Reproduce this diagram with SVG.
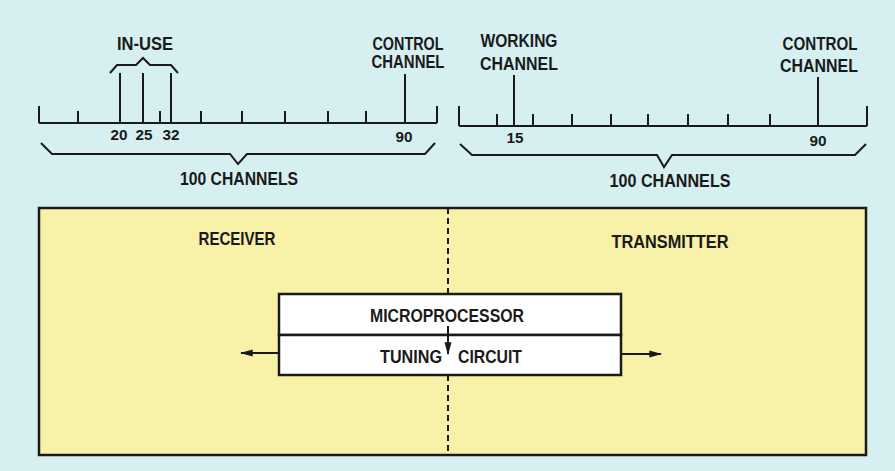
<svg xmlns="http://www.w3.org/2000/svg" width="895" height="471" viewBox="0 0 895 471">
<defs>
<style>
text{font-family:"Liberation Sans",Arial,sans-serif;font-weight:bold;fill:#1a1a1a;text-anchor:middle}
.lbl{font-size:17.5px}
.num{font-size:15.5px}
.ln{stroke:#1a1a1a;stroke-width:2;fill:none}
.box{stroke:#1a1a1a;stroke-width:2.5}
</style>
<marker id="ah" viewBox="0 0 10 10" refX="9" refY="5" markerWidth="6.5" markerHeight="6.5" orient="auto" markerUnits="strokeWidth">
<path d="M0,2.3 L10,5 L0,7.7 Z" fill="#1a1a1a"/>
</marker>
</defs>
<rect width="895" height="471" fill="#d6eff1"/>

<g id="left-scale">
<path class="ln" d="M39,123 H437 M39,106 V123 M437,106 V123 M78,111 V123 M160,111 V123 M201,111 V123 M242,111 V123 M285,111 V123 M328,111 V123 M366,111 V123"/>
<path class="ln" d="M120,73 V123 M143,73 V123 M171,73 V123 M405,74 V123"/>
<path class="ln" d="M110,73 L117,65 H136 L143,58 L150,65 H171 L178,73"/>
<path class="ln" d="M41,143 L52,154 H230 L238,164 L247,154 H425 L435,143"/>
<text class="lbl" x="145" y="50" textLength="56" lengthAdjust="spacingAndGlyphs">IN-USE</text>
<text class="lbl" x="408" y="50" textLength="71" lengthAdjust="spacingAndGlyphs">CONTROL</text>
<text class="lbl" x="408" y="68" textLength="73" lengthAdjust="spacingAndGlyphs">CHANNEL</text>
<text class="num" x="119" y="140" textLength="17" lengthAdjust="spacingAndGlyphs">20</text>
<text class="num" x="144" y="140" textLength="17" lengthAdjust="spacingAndGlyphs">25</text>
<text class="num" x="171" y="140" textLength="17" lengthAdjust="spacingAndGlyphs">32</text>
<text class="num" x="404" y="142" textLength="17" lengthAdjust="spacingAndGlyphs">90</text>
<text class="lbl" x="239" y="185" textLength="118" lengthAdjust="spacingAndGlyphs">100 CHANNELS</text>
</g>

<g id="right-scale">
<path class="ln" d="M459,126 H867 M459,106 V126 M867,106 V126 M497,114 V126 M533,114 V126 M572,114 V126 M611,114 V126 M648,114 V126 M688,114 V126 M728,114 V126 M770,114 V126"/>
<path class="ln" d="M514,75 V126 M818,77 V126"/>
<path class="ln" d="M460,144 L472,155 H657 L664,167 L672,155 H855 L866,144"/>
<text class="lbl" x="519" y="47" textLength="77" lengthAdjust="spacingAndGlyphs">WORKING</text>
<text class="lbl" x="519" y="70" textLength="78" lengthAdjust="spacingAndGlyphs">CHANNEL</text>
<text class="lbl" x="820" y="50" textLength="75" lengthAdjust="spacingAndGlyphs">CONTROL</text>
<text class="lbl" x="819" y="72" textLength="78" lengthAdjust="spacingAndGlyphs">CHANNEL</text>
<text class="num" x="515" y="143" textLength="17" lengthAdjust="spacingAndGlyphs">15</text>
<text class="num" x="818" y="146" textLength="17" lengthAdjust="spacingAndGlyphs">90</text>
<text class="lbl" x="670" y="187" textLength="121" lengthAdjust="spacingAndGlyphs">100 CHANNELS</text>
</g>

<g id="unit">
<rect class="box" x="39" y="208" width="827" height="247" fill="#f8f1a8"/>
<text class="lbl" x="237" y="245" textLength="77" lengthAdjust="spacingAndGlyphs">RECEIVER</text>
<text class="lbl" x="670" y="248" textLength="117" lengthAdjust="spacingAndGlyphs">TRANSMITTER</text>
</g>

<g id="microprocessor">
<rect class="box" x="279" y="294" width="342" height="41" fill="#ffffff"/>
<text class="lbl" x="447" y="322" textLength="154" lengthAdjust="spacingAndGlyphs">MICROPROCESSOR</text>
</g>

<g id="tuning-circuit">
<rect class="box" x="279" y="335" width="342" height="40" fill="#ffffff"/>
<text class="lbl" x="411" y="363" textLength="62" lengthAdjust="spacingAndGlyphs">TUNING</text>
<text class="lbl" x="490" y="363" textLength="64" lengthAdjust="spacingAndGlyphs">CIRCUIT</text>
</g>

<g id="connectors">
<path class="ln" d="M448,208 V294 M448,375 V455" stroke-dasharray="6,4"/>
<path class="ln" d="M448,326 V354" marker-end="url(#ah)"/>
<path class="ln" d="M279,353 H241" marker-end="url(#ah)"/>
<path class="ln" d="M621,354 H661" marker-end="url(#ah)"/>
</g>
</svg>
